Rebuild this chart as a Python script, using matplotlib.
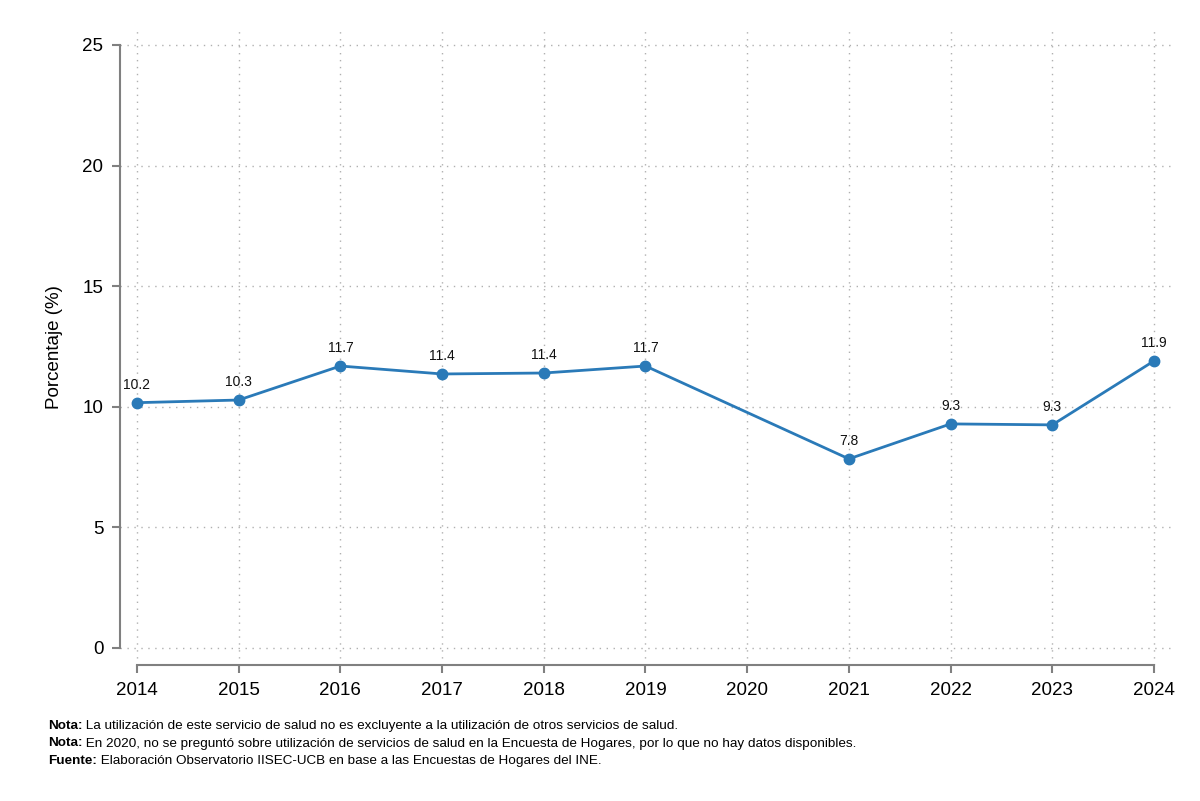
import matplotlib
matplotlib.use("Agg")
import matplotlib.pyplot as plt

years = [2014, 2015, 2016, 2017, 2018, 2019, 2021, 2022, 2023, 2024]
values = [10.17, 10.28, 11.69, 11.36, 11.40, 11.69, 7.84, 9.29, 9.25, 11.90]
labels = ["10.2", "10.3", "11.7", "11.4", "11.4", "11.7", "7.8", "9.3", "9.3", "11.9"]
xticks = list(range(2014, 2025))
yticks = [0, 5, 10, 15, 20, 25]
notes = [
    ("Nota:", " La utilización de este servicio de salud no es excluyente a la utilización de otros servicios de salud."),
    ("Nota:", " En 2020, no se preguntó sobre utilización de servicios de salud en la Encuesta de Hogares, por lo que no hay datos disponibles."),
    ("Fuente:", " Elaboración Observatorio IISEC-UCB en base a las Encuestas de Hogares del INE."),
]

plt.rcParams["font.family"] = ["Liberation Sans", "DejaVu Sans"]
line_color = "#2a7ab8"
spine_color = "#808080"

W, H = 1200, 801
fig = plt.figure(figsize=(12, 8.01), dpi=100)
left, right, top, bottom = 120, 1172, 30, 665
ax = fig.add_axes([left / W, 1 - bottom / H, (right - left) / W, (bottom - top) / H])

ax.plot(years, values, color=line_color, linewidth=2, marker="o", markersize=7.5, zorder=3)
for x, y, lab in zip(years, values, labels):
    ax.annotate(lab, (x, y), xytext=(0, 8), textcoords="offset points",
                ha="center", va="bottom", fontsize=10, color="#111111")

ax.set_xlim(2013.833, 2024.177)
ax.set_ylim(-0.705, 25.62)
ax.set_xticks(xticks)
ax.set_yticks(yticks)
ax.tick_params(axis="both", labelsize=13.5, length=6, width=1.5, color=spine_color, pad=6)
ax.set_ylabel("Porcentaje (%)", fontsize=13.5, labelpad=14)

for s in ["top", "right"]:
    ax.spines[s].set_visible(False)
ax.spines["left"].set_bounds(0, 25)
ax.spines["bottom"].set_bounds(2014, 2024)
for s in ["left", "bottom"]:
    ax.spines[s].set_color(spine_color)
    ax.spines[s].set_linewidth(1.5)

ax.grid(True, linestyle=(0, (1, 4)), color="#b0b0b0", linewidth=1)
ax.set_axisbelow(True)

# notas al pie: prefijo en negrita + resto normal, misma linea base
renderer = fig.canvas.get_renderer()
y0 = 1 - 729 / H
for i, (bold, rest) in enumerate(notes):
    y = y0 - i * 17.5 / H
    t = fig.text(48 / W, y, bold, fontsize=9.7, fontweight="bold", va="baseline")
    x1 = t.get_window_extent(renderer).x1 / W
    fig.text(x1, y, rest, fontsize=9.7, va="baseline")

fig.savefig("out.png", dpi=100)
